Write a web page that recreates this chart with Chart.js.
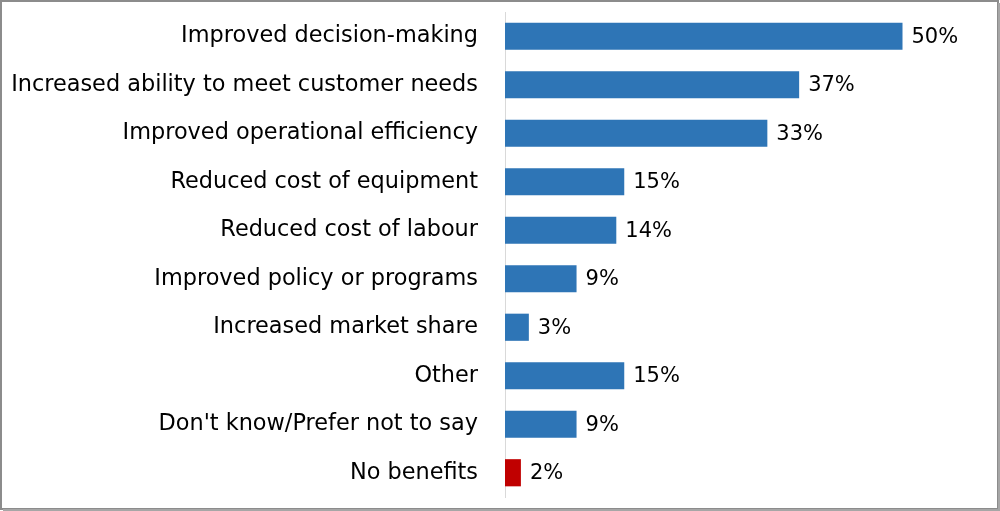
<!DOCTYPE html>
<html>
<head>
<meta charset="utf-8">
<script src="https://cdn.jsdelivr.net/npm/chart.js@4.4.0/dist/chart.umd.min.js"></script>
<style>
  html, body { margin: 0; padding: 0; background: #fff; }
  canvas { display: block; }
</style>
</head>
<body>
<canvas id="benefits" width="1000" height="511"></canvas>
<script>
var categories = [
  "Improved decision-making",
  "Increased ability to meet customer needs",
  "Improved operational efficiency",
  "Reduced cost of equipment",
  "Reduced cost of labour",
  "Improved policy or programs",
  "Increased market share",
  "Other",
  "Don't know/Prefer not to say",
  "No benefits"
];
var values = [50, 37, 33, 15, 14, 9, 3, 15, 9, 2];
var barColors = ["#2E75B6", "#2E75B6", "#2E75B6", "#2E75B6", "#2E75B6",
                 "#2E75B6", "#2E75B6", "#2E75B6", "#2E75B6", "#C00000"];

var fontName = "'DejaVu Sans', sans-serif";

// draws the value text next to each bar
var valueLabels = {
  id: 'valueLabels',
  afterDatasetsDraw: function(chart) {
    var ctx = chart.ctx;
    var meta = chart.getDatasetMeta(0);
    ctx.save();
    ctx.font = "21px " + fontName;
    ctx.fillStyle = "#000";
    ctx.textAlign = "left";
    ctx.textBaseline = "middle";
    meta.data.forEach(function(bar, i) {
      ctx.fillText(values[i] + "%", bar.x + 9, bar.y + 1);
    });
    ctx.restore();
  }
};

// gray frame round the picture
var frame = {
  id: 'frame',
  afterDraw: function(chart) {
    var ctx = chart.ctx;
    ctx.save();
    ctx.strokeStyle = "#8c8c8c";
    ctx.lineWidth = 2;
    ctx.strokeRect(1, 1, chart.width - 3, chart.height - 3);
    ctx.strokeStyle = "#a6a6a6";
    ctx.beginPath();
    ctx.moveTo(chart.width - 1, 3);
    ctx.lineTo(chart.width - 1, chart.height);
    ctx.moveTo(3, chart.height - 1);
    ctx.lineTo(chart.width, chart.height - 1);
    ctx.stroke();
    ctx.restore();
  }
};

var barctx = document.getElementById("benefits");
var barchart = new Chart(barctx, {
  type: 'bar',
  data: {
    labels: categories,
    datasets: [{
      data: values,
      backgroundColor: barColors,
      borderWidth: 0,
      categoryPercentage: 1.0,
      barPercentage: 0.56
    }]
  },
  options: {
    indexAxis: 'y',
    responsive: false,
    animation: false,
    maintainAspectRatio: false,
    layout: { padding: { top: 12, bottom: 14, left: 0, right: 18 } },
    plugins: {
      legend: { display: false },
      tooltip: { enabled: false }
    },
    scales: {
      x: {
        display: false,
        min: 0,
        max: 60
      },
      y: {
        grid: { display: false, drawTicks: false },
        border: { display: true, color: "#d9d9d9", width: 1 },
        ticks: {
          color: "#000",
          padding: 27,
          font: { family: fontName, size: 22.4 }
        },
        afterFit: function(scale) {
          scale.width = 505;
          scale.paddingTop = 0;
          scale.paddingBottom = 0;
        }
      }
    }
  },
  plugins: [valueLabels, frame]
});
</script>
</body>
</html>
